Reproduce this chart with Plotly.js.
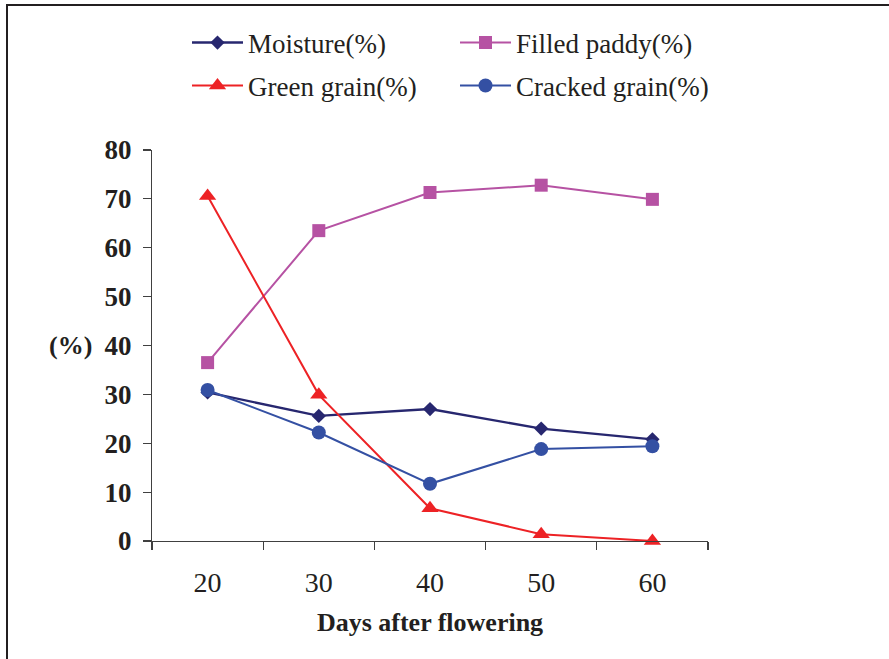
<!DOCTYPE html>
<html>
<head>
<meta charset="utf-8">
<script src="https://cdn.plot.ly/plotly-3.0.1.min.js"></script>
<style>
  html, body { margin: 0; padding: 0; background: #ffffff; overflow: hidden; }
  #wrap { position: relative; width: 889px; height: 659px; }
  #frame { position: absolute; left: 6px; top: 4px; width: 1000px; height: 1000px;
           border-left: 2px solid #231f20; border-top: 2px solid #231f20; pointer-events: none; z-index: 5; }
  #chart { position: absolute; left: 0; top: 0; width: 889px; height: 659px; }
</style>
</head>
<body>
<div id="wrap">
  <div id="chart"></div>
  <div id="frame"></div>
</div>
<script>
// Days after flowering
const days = [20, 30, 40, 50, 60];
// Category boundaries used for the axis tick marks
const dayBounds = [15, 25, 35, 45, 55, 65];

// Measured percentages
const moisture = [30.4, 25.6, 27.0, 23.0, 20.8];
const filledPaddy = [36.5, 63.5, 71.3, 72.8, 69.9];
const greenGrain = [70.6, 29.9, 6.7, 1.4, 0.0];
const crackedGrain = [30.9, 22.2, 11.7, 18.8, 19.4];

const yTicks = [0, 10, 20, 30, 40, 50, 60, 70, 80];

const serif = 'Liberation Serif';
const ink = '#231f20';

function series(name, y, color, symbol, size, width, legend) {
  return {
    type: 'scatter', mode: 'lines+markers', name: name,
    x: days, y: y, xaxis: 'x', yaxis: 'y', legend: legend,
    cliponaxis: false,
    line: { color: color, width: width },
    marker: { color: color, symbol: symbol, size: size, line: { width: 0 } }
  };
}

const traces = [
  series('Moisture(%)', moisture, '#27276f', 'diamond', 11, 2.4, 'legend'),
  series('Filled paddy(%)', filledPaddy, '#b652a3', 'square', 13, 2, 'legend'),
  series('Green grain(%)', greenGrain, '#ed2225', 'triangle-up', 15, 2, 'legend2'),
  series('Cracked grain(%)', crackedGrain, '#3450a3', 'circle', 14, 2, 'legend2')
];

const legendBase = {
  xref: 'container', yref: 'container',
  xanchor: 'left', yanchor: 'middle',
  orientation: 'h',
  itemwidth: 51,
  entrywidth: 202,
  bgcolor: 'rgba(0,0,0,0)',
  borderwidth: 0,
  font: { family: serif, size: 27, color: ink }
};

const layout = {
  width: 889, height: 659,
  margin: { l: 152, r: 181, t: 150, b: 118 },
  paper_bgcolor: '#ffffff', plot_bgcolor: '#ffffff',
  font: { family: serif, color: ink },
  showlegend: true,
  legend: Object.assign({}, legendBase, { x: 187 / 889, y: 1 - 43 / 659 }),
  legend2: Object.assign({}, legendBase, { x: 187 / 889, y: 1 - 86 / 659 }),
  xaxis: {
    type: 'linear', range: [15, 65], fixedrange: true,
    showgrid: false, zeroline: false,
    showline: true, linecolor: '#404040', linewidth: 1.2,
    tickmode: 'array', tickvals: days, ticktext: days.map(String),
    ticks: '', ticklabelstandoff: 16,
    tickfont: { family: serif, size: 28, color: ink },
    minor: { tickmode: 'array', tickvals: dayBounds, ticks: 'outside', ticklen: 8, tickwidth: 1.2, tickcolor: '#404040', showgrid: false },
    title: { text: 'Days after flowering', standoff: 16,
             font: { family: serif, size: 26, color: ink, weight: 'bold' } }
  },
  xaxis2: {
    type: 'linear', range: [15, 65], overlaying: 'x', anchor: 'y', fixedrange: true,
    showgrid: false, zeroline: false, showline: false, showticklabels: false,
    tickmode: 'array', tickvals: dayBounds, ticks: 'inside', ticklen: 9, tickwidth: 1.2, tickcolor: '#404040'
  },
  yaxis: {
    range: [0, 80], fixedrange: true,
    showgrid: false, zeroline: false,
    showline: true, linecolor: '#404040', linewidth: 1.2,
    tickmode: 'array', tickvals: yTicks,
    ticks: 'outside', ticklen: 8, tickwidth: 1.2, tickcolor: '#404040',
    ticklabelstandoff: 6,
    tickfont: { family: serif, size: 27, color: ink, weight: 'bold' }
  },
  yaxis2: {
    range: [0, 80], overlaying: 'y', anchor: 'x', fixedrange: true,
    showgrid: false, zeroline: false, showline: false, showticklabels: false,
    tickmode: 'array', tickvals: yTicks, ticks: 'inside', ticklen: 9, tickwidth: 1.2, tickcolor: '#404040'
  },
  annotations: [{
    text: '(%)', xref: 'paper', yref: 'y', x: (70 - 152) / 556, y: 40,
    xanchor: 'center', yanchor: 'middle', showarrow: false,
    font: { family: serif, size: 26, color: ink, weight: 'bold' }
  }]
};

Plotly.newPlot('chart', traces, layout, { staticPlot: true, displayModeBar: false });
</script>
</body>
</html>
